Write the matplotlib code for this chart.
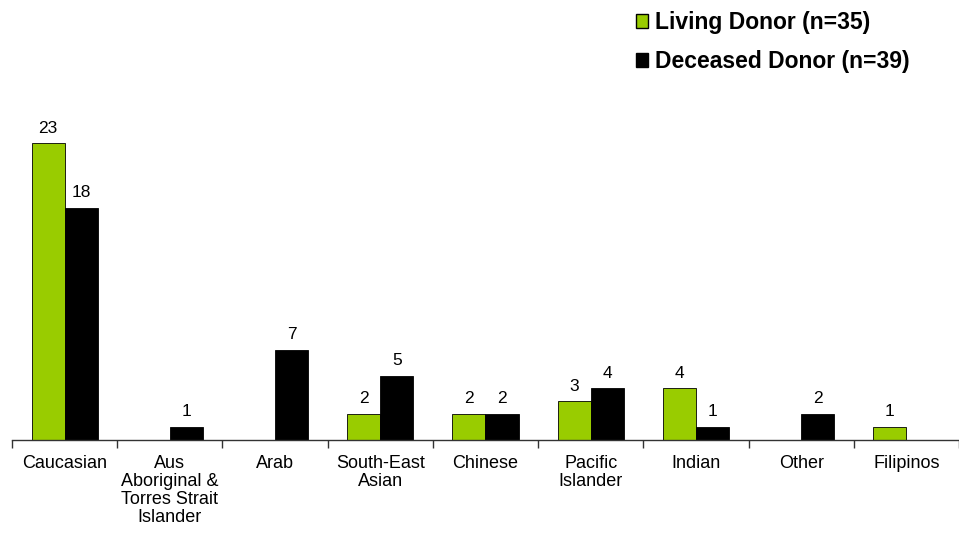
import numpy as np
import matplotlib.pyplot as plt
from matplotlib.patches import Patch

plt.rcParams['font.family'] = ['Liberation Sans', 'DejaVu Sans']

# === data ===
categories = ["Caucasian", "Aus\nAboriginal &\nTorres Strait\nIslander", "Arab",
              "South-East\nAsian", "Chinese", "Pacific\nIslander", "Indian",
              "Other", "Filipinos"]
living = [23, 0, 0, 2, 2, 3, 4, 0, 1]
deceased = [18, 1, 7, 5, 2, 4, 1, 2, 0]
legend_labels = ["Living Donor (n=35)", "Deceased Donor (n=39)"]

green = "#99CC00"
bar_w = 0.314

fig = plt.figure(figsize=(9.59, 5.34), dpi=100)
ax = fig.add_axes([12 / 959, 94 / 534, 947 / 959, 387 / 534])

x = np.arange(len(categories)) + 0.5

for xi, v in zip(x, living):
    if v > 0:
        ax.bar(xi - bar_w / 2, v, bar_w, color=green, edgecolor="black", linewidth=0.6)
        ax.text(xi - bar_w / 2, v + 0.6, str(v), ha="center", va="bottom", fontsize=12.5)
for xi, v in zip(x, deceased):
    if v > 0:
        ax.bar(xi + bar_w / 2, v, bar_w, color="black", edgecolor="black", linewidth=0.6)
        ax.text(xi + bar_w / 2, v + 0.6, str(v), ha="center", va="bottom", fontsize=12.5)

ax.set_xlim(0, len(categories))
ax.set_ylim(0, 30)

for s in ["top", "right", "left"]:
    ax.spines[s].set_visible(False)
ax.spines["bottom"].set_color("#333333")
ax.spines["bottom"].set_linewidth(1.0)
ax.set_yticks([])

ax.set_xticks(x)
ax.set_xticklabels(categories, fontsize=13, linespacing=1.08, va="top")
ax.tick_params(axis="x", which="major", length=0, pad=11)
ax.set_xticks(np.arange(len(categories) + 1), minor=True)
ax.tick_params(axis="x", which="minor", length=6, width=1.0, color="#333333")

handles = [Patch(facecolor=green, edgecolor="black", linewidth=1.0),
           Patch(facecolor="black", edgecolor="black")]
fig.legend(handles, legend_labels, loc="upper left", bbox_to_anchor=(615 / 959, 1.018),
           frameon=False, handlelength=0.55, handleheight=0.55, handletextpad=0.3,
           labelspacing=0.7, prop={"weight": "bold", "size": 16.5})

fig.savefig("out.png", dpi=100)
